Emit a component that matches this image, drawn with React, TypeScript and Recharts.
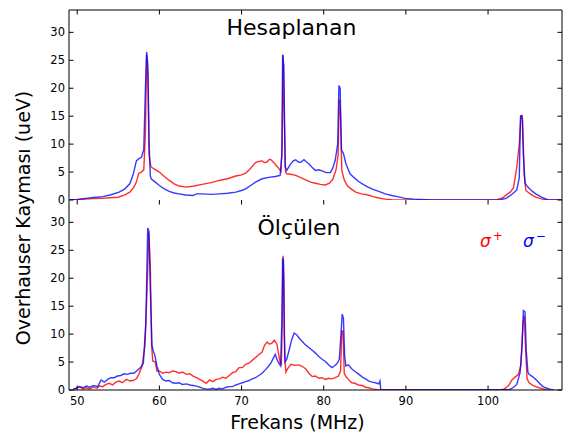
import React from 'react';
import { LineChart, Line, XAxis, YAxis } from 'recharts';

const FONT = '"DejaVu Sans", "Bitstream Vera Sans", sans-serif';
const RED = '#ff0000';
const BLUE = '#0000ff';

const xTicks = [50, 60, 70, 80, 90, 100];
const yTicks = [0, 5, 10, 15, 20, 25, 30];
const xDomain = [49, 109];
const yDomain = [0, 34];

const panelTitles = ['Hesaplanan', 'Ölçülen'];
const xLabel = 'Frekans (MHz)';
const yLabel = 'Overhauser Kayması (ueV)';

// Hesaplanan, sigma+
const calcPlusFreq = [
  49.1, 50, 51, 52, 53, 54, 55, 55.8, 56.4, 56.9,
  57.2, 57.5, 57.8, 58.1, 58.3, 58.45, 58.6, 58.75, 58.95, 59.3,
  60, 60.6, 61.2, 61.8, 62.4, 63.3, 64.2, 65.2, 66.3, 67.3,
  68.3, 69.3, 70.0, 70.5, 71.0, 71.7, 72.1, 72.5, 72.8, 73.1,
  73.4, 73.6, 73.9, 74.1, 74.5, 74.8, 74.95, 75.05, 75.2, 75.35,
  75.5, 76.0, 76.6, 77.2, 77.8, 78.4, 79.0, 79.6, 80.2, 80.7,
  81.1, 81.5, 81.75, 81.9, 82.05, 82.2, 82.5, 82.85, 83.4, 83.9,
  84.6, 85.4, 86.0, 86.7, 87.5, 88.3, 90, 100, 101.1, 101.8,
  102.3, 102.7, 103.1, 103.5, 103.8, 104.0, 104.2, 104.4, 104.6, 105.2,
  105.8, 106.5, 107.1, 109,
];
const calcPlusVal = [
  0, 0.05, 0.15, 0.25, 0.3, 0.4, 0.5, 0.9, 1.4, 2.3,
  3.2, 4.8, 5.0, 5.4, 12, 26, 22, 8, 6.0, 5.6,
  5.0, 4.2, 3.5, 2.9, 2.5, 2.3, 2.5, 2.8, 3.1, 3.5,
  3.8, 4.3, 4.5, 4.8, 5.5, 6.7, 6.9, 7.0, 6.7, 6.8,
  7.3, 7.2, 6.7, 6.4, 5.7, 5.1, 10, 26, 15, 5.0,
  4.7, 4.6, 4.4, 4.0, 3.6, 3.2, 3.0, 2.8, 2.7, 3.0,
  3.7, 5.4, 8, 18, 15, 5.3, 3.6, 2.6, 1.9, 1.4,
  1.1, 0.9, 0.6, 0.35, 0.15, 0.05, 0, 0, 0.05, 0.4,
  1.0, 1.4, 2.2, 5.9, 10, 15.2, 14.5, 4.5, 1.7, 1.0,
  0.5, 0.2, 0, 0,
];

// Hesaplanan, sigma-
const calcMinusFreq = [
  49.1, 50, 51, 52, 53.1, 54, 55.1, 55.8, 56.4, 56.8,
  57.2, 57.5, 57.8, 58.1, 58.3, 58.45, 58.6, 58.75, 58.9, 59.0,
  59.5, 60.0, 60.6, 61.2, 61.8, 62.4, 63.2, 64.1, 64.5, 65.3,
  66.3, 67.3, 68.3, 69.3, 70.0, 70.5, 71.1, 71.7, 72.5, 73.3,
  74.1, 74.7, 74.9, 75.0, 75.15, 75.3, 75.5, 75.9, 76.3, 76.6,
  76.9, 77.2, 77.6, 77.9, 78.2, 78.6, 79.0, 79.4, 79.8, 80.3,
  80.8, 81.1, 81.4, 81.7, 81.85, 82.0, 82.15, 82.4, 82.7, 83.2,
  83.7, 84.2, 84.8, 85.4, 86.0, 86.7, 87.5, 88.3, 89.1, 89.9,
  91, 93, 100, 101.5, 102.2, 102.8, 103.2, 103.5, 103.8, 103.95,
  104.15, 104.3, 104.5, 104.8, 105.2, 105.8, 106.5, 107.3, 109,
];
const calcMinusVal = [
  0.05, 0.1, 0.3, 0.45, 0.6, 0.9, 1.4, 2.0, 2.9, 4.5,
  7.0, 7.4, 7.6, 9, 20, 26.5, 24, 10, 4.3, 3.8,
  3.2, 2.6, 2.0, 1.55, 1.25, 1.1, 0.9, 0.8, 1.1, 1.1,
  1.0, 1.1, 1.2, 1.4, 1.7, 2.0, 2.6, 3.2, 3.8, 4.05,
  4.2, 4.4, 8, 26, 24, 6, 5.3, 6.3, 7.0, 7.2,
  6.8, 6.75, 7.2, 6.8, 6.5, 5.8, 5.3, 5.4, 5.2, 4.9,
  4.9, 5.7, 7.1, 10, 20.5, 20, 9, 8.3, 6.5, 4.7,
  4.0, 3.35, 2.8, 2.3, 1.9, 1.55, 1.1, 0.8, 0.55, 0.3,
  0.15, 0, 0, 0.05, 0.3, 0.9, 1.4, 1.8, 4, 15,
  15.1, 8, 3.0, 2.4, 1.8, 1.1, 0.5, 0, 0,
];

// Ölçülen, sigma+
const measPlusFreq = [
  49.5, 49.9, 50.3, 50.7, 51.1, 51.5, 52.0, 52.4, 52.7, 53.1,
  53.5, 53.9, 54.3, 54.7, 55.1, 55.5, 56.0, 56.4, 56.8, 57.2,
  57.5, 57.9, 58.25, 58.5, 58.72, 58.9, 59.05, 59.2, 59.5, 59.7,
  60.0, 60.4, 60.8, 61.2, 61.6, 62.0, 62.4, 62.8, 63.3, 63.7,
  64.1, 64.5, 64.9, 65.3, 65.7, 66.1, 66.5, 66.9, 67.3, 67.7,
  68.1, 68.5, 68.9, 69.3, 69.7, 70.1, 70.5, 70.9, 71.3, 71.7,
  72.1, 72.5, 72.8, 73.1, 73.4, 73.7, 74.0, 74.3, 74.5, 74.7,
  74.85, 74.95, 75.05, 75.15, 75.25, 75.4, 75.6, 76.0, 76.5, 77.0,
  77.4, 77.8, 78.2, 78.6, 79.0, 79.4, 79.8, 80.2, 80.6, 81.0,
  81.4, 81.8, 82.05, 82.2, 82.35, 82.5, 82.7, 83.0, 83.4, 83.8,
  84.2, 84.7, 85.1, 85.5, 85.9, 86.7, 101.5, 102.0, 102.5, 102.9,
  103.3, 103.7, 104.0, 104.25, 104.4, 104.55, 104.75, 105.0, 105.5, 106.2,
  107.0, 107.5,
];
const measPlusVal = [
  0, 0.4, 0.6, 0.2, 0.4, 0.2, 0.5, 0.3, 0.7, 0.6,
  1.0, 1.2, 0.9, 1.4, 1.6, 1.3, 1.9, 1.6, 1.7, 2.0,
  2.8, 4.3, 8, 18, 28.2, 22, 8, 5.2, 5.0, 3.4,
  3.4, 3.0, 3.2, 3.1, 3.4, 3.3, 3.0, 3.2, 2.8, 2.9,
  2.5, 2.2, 1.9, 1.6, 1.2, 1.8, 1.5, 1.9, 2.0, 2.3,
  2.1, 2.6, 3.1, 3.3, 4.0, 4.0, 4.6, 4.8, 5.3, 5.8,
  6.3, 6.8, 8.0, 8.6, 8.2, 8.4, 8.9, 8.2, 6.5, 4.9,
  4.6, 12, 24, 20, 6, 3.2, 3.8, 4.6, 4.4, 4.5,
  4.2, 3.8, 3.0, 2.4, 2.5, 2.1, 2.2, 1.9, 2.1, 2.0,
  2.2, 2.5, 3.4, 10.6, 10.5, 3.0, 2.4, 1.9, 1.3, 1.2,
  0.9, 0.8, 0.5, 0.4, 0.2, 0, 0, 0.2, 0.8, 1.8,
  2.3, 2.8, 4.5, 12, 13.3, 8, 2.0, 1.3, 0.8, 0.4,
  0.05, 0,
];

// Ölçülen, sigma-
const measMinusFreq = [
  49.5, 49.9, 50.3, 50.7, 51.1, 51.5, 52.0, 52.5, 52.9, 53.3,
  53.7, 54.1, 54.5, 54.9, 55.3, 55.7, 56.1, 56.5, 56.9, 57.3,
  57.7, 58.05, 58.35, 58.58, 58.72, 58.9, 59.1, 59.25, 59.45, 59.7,
  60.0, 60.4, 60.8, 61.2, 61.6, 62.0, 62.4, 62.8, 63.3, 63.7,
  64.1, 64.5, 64.9, 65.3, 65.7, 66.1, 66.5, 66.9, 67.3, 67.7,
  68.1, 68.5, 68.9, 69.3, 69.7, 70.1, 70.5, 70.9, 71.3, 71.7,
  72.1, 72.5, 72.9, 73.3, 73.6, 73.9, 74.1, 74.3, 74.5, 74.75,
  74.9, 75.0, 75.1, 75.2, 75.3, 75.5, 75.8, 76.1, 76.4, 76.7,
  77.0, 77.3, 77.7, 78.1, 78.6, 79.0, 79.4, 79.8, 80.2, 80.6,
  81.0, 81.3, 81.6, 81.9, 82.1, 82.25, 82.4, 82.55, 82.7, 83.0,
  83.4, 83.8, 84.3, 84.7, 85.1, 85.5, 85.9, 86.3, 86.7, 86.85,
  86.95, 101.5, 102.0, 102.7, 103.1, 103.5, 103.9, 104.15, 104.3, 104.5,
  104.65, 104.85, 105.0, 105.4, 105.8, 106.2, 106.6, 107.0, 107.5, 108.0,
];
const measMinusVal = [
  0.2, 0.3, 0.6, 0.4, 0.7, 0.5, 0.8, 0.6, 1.8, 1.4,
  1.9, 2.2, 2.2, 2.5, 2.6, 2.9, 2.8, 3.0, 3.0, 3.5,
  4.0, 4.8, 12, 29, 28.5, 18, 8, 7.0, 6.2, 4.3,
  2.8, 1.9, 1.6, 1.7, 1.3, 1.2, 1.3, 1.0, 1.1, 0.9,
  0.8, 0.7, 0.5, 0.3, 0.2, 0.15, 0.3, 0.1, 0.3, 0.2,
  0.5, 0.6, 0.6, 0.9, 1.1, 1.3, 1.5, 1.7, 2.0, 2.2,
  2.6, 3.0, 3.6, 4.3, 4.9, 5.8, 6.4, 5.5, 4.9, 4.3,
  12, 23.6, 23.3, 10, 5.0, 5.5, 7.2, 9.0, 10.2, 9.9,
  9.3, 8.8, 8.2, 7.7, 7.1, 6.6, 6.0, 5.5, 5.1, 4.5,
  4.0, 4.3, 4.7, 5.5, 10, 13.6, 12.8, 6, 4.3, 4.5,
  3.8, 3.3, 2.8, 2.3, 2.0, 1.6, 1.4, 1.3, 1.1, 1.6,
  0, 0, 0.05, 0.1, 0.5, 1.0, 3.1, 8, 14.2, 14.0,
  7, 3.2, 2.8, 2.4, 1.9, 1.3, 0.7, 0.4, 0.15, 0,
];

const zip = (f: number[], v: number[]) => f.map((x, i) => ({ f: x, v: v[i] }));

const calcPlus = zip(calcPlusFreq, calcPlusVal);
const calcMinus = zip(calcMinusFreq, calcMinusVal);
const measPlus = zip(measPlusFreq, measPlusVal);
const measMinus = zip(measMinusFreq, measMinusVal);

const TICK_LEN = 4.5;
const X_MARGIN = 7;
const Y_MARGIN = 4;
const TICK_FONT = 11.5;

const makeBottomTick = (label: boolean) => (props: any) => {
  const { x, y, payload } = props;
  const ay = y - X_MARGIN;
  return (
    <g>
      <line x1={x} y1={ay} x2={x} y2={ay - TICK_LEN} stroke="#000" strokeWidth={1} />
      {label && (
        <text x={x} y={y} dy="0.71em" textAnchor="middle" fontSize={TICK_FONT} fill="#000" fontFamily={FONT}>
          {payload.value}
        </text>
      )}
    </g>
  );
};

const topTick = (props: any) => {
  const { x, y } = props;
  return <line x1={x} y1={y} x2={x} y2={y + TICK_LEN} stroke="#000" strokeWidth={1} />;
};

const leftTick = (props: any) => {
  const { x, y, payload } = props;
  const ax = x + Y_MARGIN;
  return (
    <g>
      <line x1={ax} y1={y} x2={ax + TICK_LEN} y2={y} stroke="#000" strokeWidth={1} />
      <text x={x} y={y} dy="0.36em" textAnchor="end" fontSize={TICK_FONT} fill="#000" fontFamily={FONT}>
        {payload.value}
      </text>
    </g>
  );
};

const rightTick = (props: any) => {
  const { x, y } = props;
  return <line x1={x} y1={y} x2={x - TICK_LEN} y2={y} stroke="#000" strokeWidth={1} />;
};

type PanelProps = {
  plus: { f: number; v: number }[];
  minus: { f: number; v: number }[];
  height: number;
  margin: { top: number; right: number; bottom: number; left: number };
  bottomHeight: number;
  bottomLabels: boolean;
  topAxisLine: boolean;
};

const AXIS_STYLE = { stroke: '#000', strokeWidth: 1 };

const Panel = ({ plus, minus, height, margin, bottomHeight, bottomLabels, topAxisLine }: PanelProps) => (
  <LineChart width={564} height={height} margin={margin}>
    <XAxis
      xAxisId="b"
      dataKey="f"
      type="number"
      domain={xDomain}
      ticks={xTicks}
      interval={0}
      allowDataOverflow
      orientation="bottom"
      height={bottomHeight}
      tickSize={0}
      tickMargin={X_MARGIN}
      tickLine={false}
      axisLine={AXIS_STYLE}
      tick={makeBottomTick(bottomLabels)}
    />
    <XAxis
      xAxisId="t"
      dataKey="f"
      type="number"
      domain={xDomain}
      ticks={xTicks}
      interval={0}
      allowDataOverflow
      orientation="top"
      height={1}
      tickSize={0}
      tickMargin={0}
      tickLine={false}
      axisLine={topAxisLine ? AXIS_STYLE : false}
      tick={topTick}
    />
    <YAxis
      yAxisId="l"
      type="number"
      domain={yDomain}
      ticks={yTicks}
      interval={0}
      allowDataOverflow
      orientation="left"
      width={40}
      tickSize={0}
      tickMargin={Y_MARGIN}
      tickLine={false}
      axisLine={AXIS_STYLE}
      tick={leftTick}
    />
    <YAxis
      yAxisId="r"
      type="number"
      domain={yDomain}
      ticks={yTicks}
      interval={0}
      allowDataOverflow
      orientation="right"
      width={1}
      tickSize={0}
      tickMargin={0}
      tickLine={false}
      axisLine={AXIS_STYLE}
      tick={rightTick}
    />
    <Line
      xAxisId="b"
      yAxisId="l"
      data={plus}
      dataKey="v"
      type="linear"
      stroke={RED}
      strokeOpacity={0.82}
      strokeWidth={1.4}
      dot={false}
      activeDot={false}
      isAnimationActive={false}
    />
    <Line
      xAxisId="b"
      yAxisId="l"
      data={minus}
      dataKey="v"
      type="linear"
      stroke={BLUE}
      strokeOpacity={0.78}
      strokeWidth={1.4}
      dot={false}
      activeDot={false}
      isAnimationActive={false}
    />
  </LineChart>
);

export default function App() {
  return (
    <div
      style={{
        position: 'absolute',
        left: 0,
        top: 0,
        width: 564,
        height: 437,
        background: '#fff',
        fontFamily: FONT,
        overflow: 'hidden',
      }}
    >
      <div style={{ position: 'absolute', left: 0, top: 199, width: 564, height: 238 }}>
        <Panel
          plus={measPlus}
          minus={measMinus}
          height={238}
          margin={{ top: 0, right: 1, bottom: 17, left: 29 }}
          bottomHeight={30}
          bottomLabels={true}
          topAxisLine={false}
        />
      </div>
      <div style={{ position: 'absolute', left: 0, top: 0, width: 564, height: 215 }}>
        <Panel
          plus={calcPlus}
          minus={calcMinus}
          height={215}
          margin={{ top: 9, right: 1, bottom: 15, left: 29 }}
          bottomHeight={0}
          bottomLabels={false}
          topAxisLine={true}
        />
      </div>
      <svg
        width={564}
        height={437}
        style={{ position: 'absolute', left: 0, top: 0, pointerEvents: 'none' }}
      >
        <text x={291.5} y={35} textAnchor="middle" fontSize={22} fontFamily={FONT} fill="#000">
          {panelTitles[0]}
        </text>
        <text x={299} y={234.5} textAnchor="middle" fontSize={22} fontFamily={FONT} fill="#000">
          {panelTitles[1]}
        </text>
        <text x={480} y={247} fontSize={17} fontFamily={FONT} fontStyle="italic" fill={RED}>
          σ
          <tspan dx={2} dy={-7} fontSize={12} fontStyle="normal">+</tspan>
        </text>
        <text x={523} y={247} fontSize={17} fontFamily={FONT} fontStyle="italic" fill={BLUE}>
          σ
          <tspan dx={2} dy={-7} fontSize={12} fontStyle="normal">−</tspan>
        </text>
        <text x={297.5} y={429} textAnchor="middle" fontSize={19} fontFamily={FONT} fill="#000">
          {xLabel}
        </text>
        <text
          x={30}
          y={218}
          textAnchor="middle"
          fontSize={19}
          fontFamily={FONT}
          fill="#000"
          transform="rotate(-90 30 218)"
        >
          {yLabel}
        </text>
      </svg>
    </div>
  );
}
